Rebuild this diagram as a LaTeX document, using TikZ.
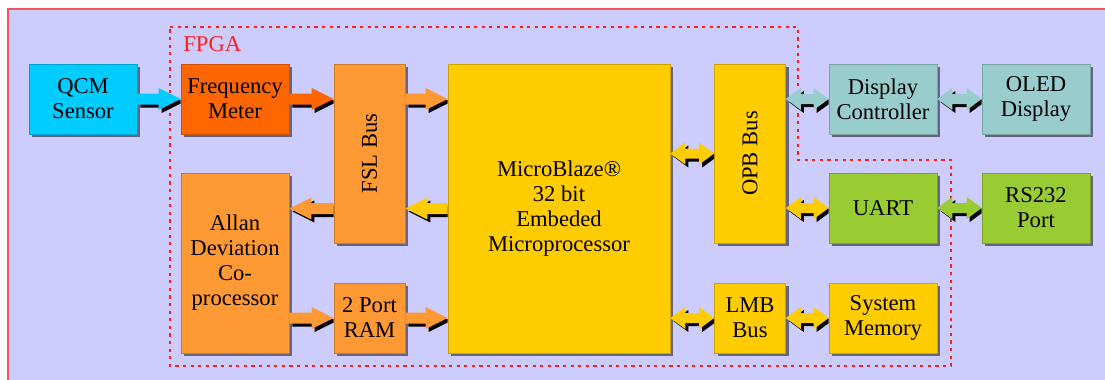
\documentclass[tikz,border=0pt]{standalone}
\usepackage{fontspec}
\setmainfont{Liberation Serif}
\usetikzlibrary{calc,shadows}

\definecolor{bgcol}{HTML}{CCCCFF}
\definecolor{framecol}{HTML}{F05565}
\definecolor{fpgacol}{HTML}{FF1E1E}
\definecolor{qcmcol}{HTML}{00CCFF}
\definecolor{freqcol}{HTML}{FF6600}
\definecolor{fslcol}{HTML}{FF9933}
\definecolor{mbcol}{HTML}{FFCC00}
\definecolor{dispcol}{HTML}{99CCCC}
\definecolor{uartcol}{HTML}{99CC33}

\tikzset{
  block/.style={rectangle, fill=#1, draw=#1!80!black, line width=0.3pt,
    inner sep=1pt, align=center, font=\fontsize{11.3}{12.5}\selectfont,
    drop shadow={shadow xshift=1.5pt, shadow yshift=-1.5pt, fill=black}},
  wide/.style={minimum width=54pt, minimum height=35pt},
  bus/.style={minimum width=35.5pt, minimum height=89.5pt},
  port/.style={minimum width=35.5pt, minimum height=35pt},
  fpga/.style={fpgacol, line width=1pt, dash pattern=on 1.6pt off 2.2pt}
}

% single block arrow, from #2 to #3
\newcommand\fatarrow[3]{%
  \begin{scope}
    \path[clip] let \p1=#2, \p2=#3 in (\x1,\y1-9pt) rectangle (\x2,\y1+9pt);
    \fill[black] let \p0=#2, \p9=#3, \p1=(\x0+1.5pt,\y0-1.5pt), \p2=(\x9+1.5pt,\y9-1.5pt),
      \n1={sign(\x9-\x0)} in
      (\x1,\y1+2.75pt) -- (\x2-11*\n1,\y1+2.75pt) -- (\x2-11*\n1,\y1+5.5pt) -- (\x2,\y1)
      -- (\x2-11*\n1,\y1-5.5pt) -- (\x2-11*\n1,\y1-2.75pt) -- (\x1,\y1-2.75pt) -- cycle;
    \fill[#1] let \p1=#2, \p2=#3, \n1={sign(\x2-\x1)} in
      (\x1,\y1+2.75pt) -- (\x2-11*\n1,\y1+2.75pt) -- (\x2-11*\n1,\y1+5.5pt) -- (\x2,\y1)
      -- (\x2-11*\n1,\y1-5.5pt) -- (\x2-11*\n1,\y1-2.75pt) -- (\x1,\y1-2.75pt) -- cycle;
  \end{scope}}

% double block arrow between #2 and #3
\newcommand\busarrow[3]{%
  \begin{scope}
    \path[clip] let \p1=#2, \p2=#3 in (\x1,\y1-9pt) rectangle (\x2,\y1+9pt);
    \fill[black] let \p0=#2, \p9=#3, \p1=(\x0+1.5pt,\y0-1.5pt), \p2=(\x9+1.5pt,\y9-1.5pt) in
      (\x1,\y1) -- (\x1+7.5pt,\y1+5.5pt) -- (\x1+7.5pt,\y1+2.5pt) -- (\x2-7.5pt,\y1+2.5pt)
      -- (\x2-7.5pt,\y1+5.5pt) -- (\x2,\y1) -- (\x2-7.5pt,\y1-5.5pt) -- (\x2-7.5pt,\y1-2.5pt)
      -- (\x1+7.5pt,\y1-2.5pt) -- (\x1+7.5pt,\y1-5.5pt) -- cycle;
    \fill[#1] let \p1=#2, \p2=#3 in
      (\x1,\y1) -- (\x1+7.5pt,\y1+5.5pt) -- (\x1+7.5pt,\y1+2.5pt) -- (\x2-7.5pt,\y1+2.5pt)
      -- (\x2-7.5pt,\y1+5.5pt) -- (\x2,\y1) -- (\x2-7.5pt,\y1-5.5pt) -- (\x2-7.5pt,\y1-2.5pt)
      -- (\x1+7.5pt,\y1-2.5pt) -- (\x1+7.5pt,\y1-5.5pt) -- cycle;
  \end{scope}}

\begin{document}
\begin{tikzpicture}[x=0.5pt,y=-0.5pt]
  \useasboundingbox (0,0) rectangle (1105,380);
  \fill[bgcol] (8,9) rectangle (1105,380);
  \draw[framecol, line width=1pt] (8,380) -- (8,9) -- (1105,9);

  % blocks
  \node[block=qcmcol, wide] (qcm) at (83,99) {QCM\\Sensor};
  \node[block=freqcol, wide] (freq) at (235,99) {Frequency\\Meter};
  \node[block=fslcol, bus] (fsl) at (369.5,153.5) {\rotatebox{90}{FSL Bus}};
  \node[block=mbcol, minimum width=111pt, minimum height=144.5pt] (mb) at (559,208.5)
    {MicroBlaze®\\32 bit\\Embeded\\Microprocessor};
  \node[block=mbcol, bus] (opb) at (750,153.5) {\rotatebox{90}{OPB Bus}};
  \node[block=dispcol, wide] (disp) at (883,99) {Display\\Controller};
  \node[block=dispcol, wide] (oled) at (1036,99) {OLED\\Display};
  \node[block=fslcol, minimum width=54pt, minimum height=90pt] (allan) at (235,263)
    {Allan\\Deviation\\Co-\\processor};
  \node[block=fslcol, port] (ram) at (369.5,318) {2 Port\\RAM};
  \node[block=uartcol, wide] (uart) at (883,208) {UART};
  \node[block=uartcol, wide] (rs) at (1036,208) {RS232\\Port};
  \node[block=mbcol, port] (lmb) at (750,318) {LMB\\Bus};
  \node[block=mbcol, wide] (mem) at (883,318) {System\\Memory};

  % chip boundary
  \draw[fpga] (170,27) -- (798,27) -- (798,160) -- (951,160) -- (951,366) -- (170,366) -- cycle;
  \node[text=fpgacol, anchor=base west, inner sep=0pt, font=\fontsize{11.3}{12}\selectfont]
    (fpgalabel) at (183,52) {FPGA};

  % data paths
  \fatarrow{qcmcol}{(qcm.east)}{(freq.west)}
  \fatarrow{freqcol}{(freq.east)}{(fsl.west |- freq.east)}
  \fatarrow{fslcol}{(fsl.east |- freq.east)}{(mb.west |- freq.east)}
  \fatarrow{mbcol}{(mb.west)}{(fsl.east |- mb.west)}
  \fatarrow{fslcol}{(fsl.west |- mb.west)}{(allan.east |- mb.west)}
  \fatarrow{fslcol}{(allan.east |- ram.west)}{(ram.west)}
  \fatarrow{fslcol}{(ram.east)}{(mb.west |- ram.east)}
  \busarrow{mbcol}{(mb.east |- opb.west)}{(opb.west)}
  \busarrow{dispcol}{(opb.east |- disp.west)}{(disp.west)}
  \busarrow{dispcol}{(disp.east)}{(oled.west)}
  \busarrow{mbcol}{(opb.east |- uart.west)}{(uart.west)}
  \busarrow{uartcol}{(uart.east)}{(rs.west)}
  \busarrow{mbcol}{(mb.east |- lmb.west)}{(lmb.west)}
  \busarrow{mbcol}{(lmb.east)}{(mem.west)}
\end{tikzpicture}
\end{document}
